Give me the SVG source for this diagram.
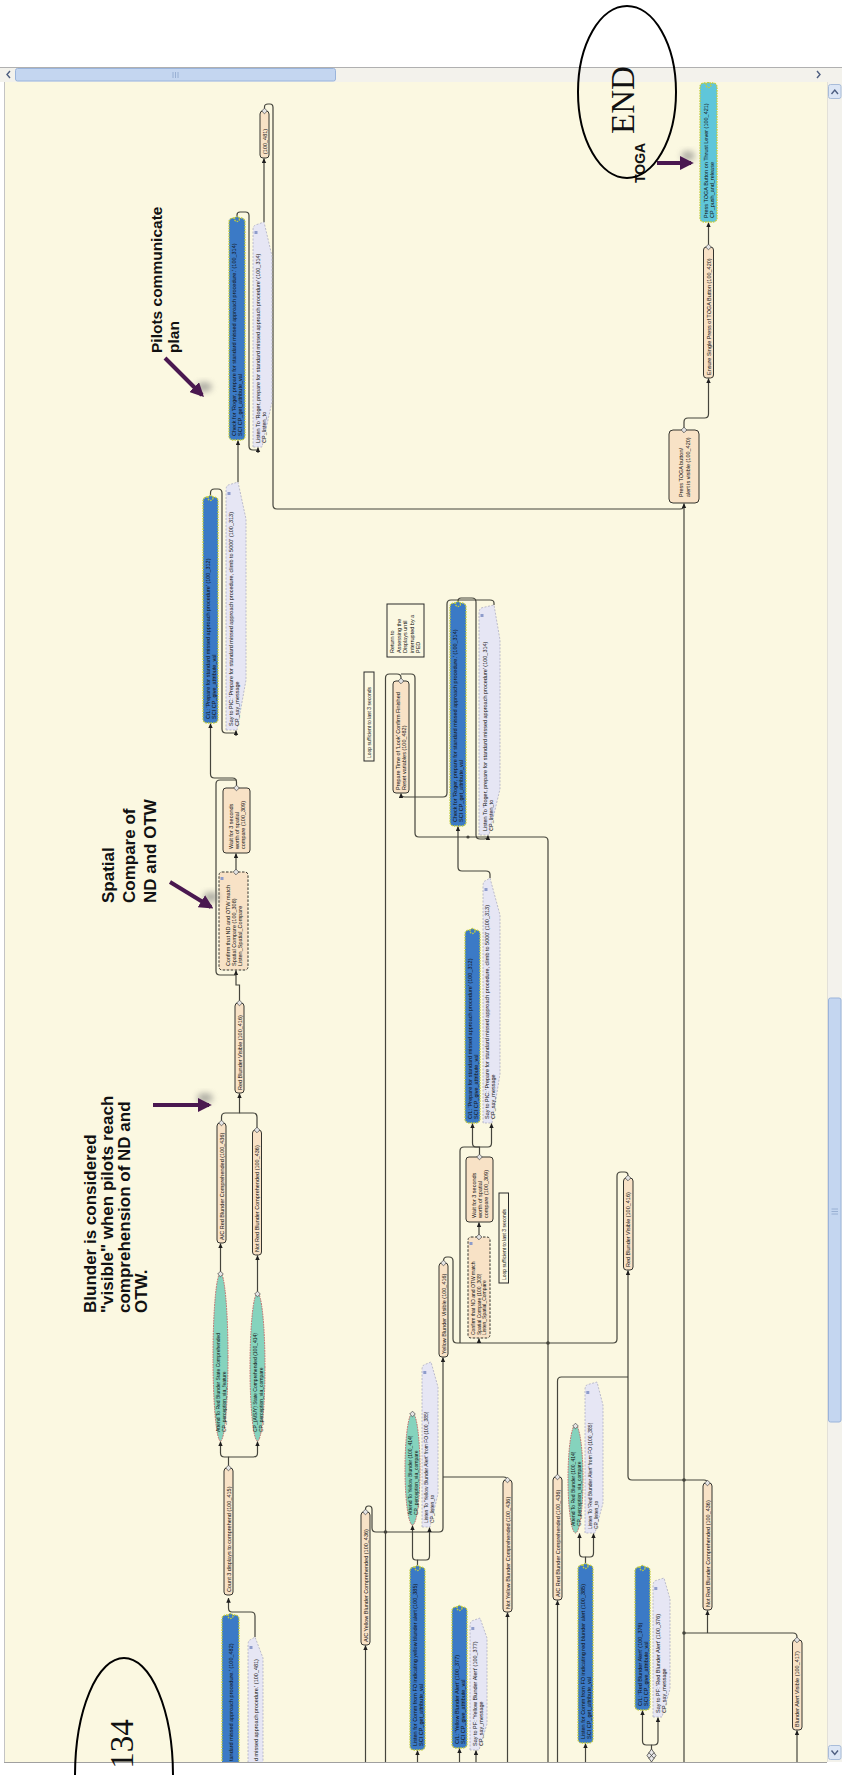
<svg xmlns="http://www.w3.org/2000/svg" width="842" height="1775" viewBox="0 0 842 1775">
<defs>
<style>
.ln{fill:none;stroke:#45453c;stroke-width:1.2}
.a{marker-end:url(#ah)}
.pe{fill:#F8E2C6;stroke:#35352f;stroke-width:1}
.pd{fill:#F8E2C6;stroke:#35352f;stroke-width:1;stroke-dasharray:2.5 1.5}
.bl{fill:#3B7AC6;stroke:#C3CC3C;stroke-width:1.3;stroke-dasharray:1.6 1}
.cy{fill:#85D3BD;stroke:#C26868;stroke-width:1;stroke-dasharray:1.6 1}
.tg{fill:#5FC6DA;stroke:#C3CC3C;stroke-width:1.3;stroke-dasharray:1.6 1}
.co{fill:#E6E6F4;stroke:#ADADC2;stroke-width:0.8;stroke-dasharray:2 1.5}
.nb{fill:#FBF8E1;stroke:#2a2a2a;stroke-width:1}
.t{font-family:"Liberation Sans",Arial,sans-serif;font-size:5.5px;fill:#111}
.t5{font-family:"Liberation Sans",Arial,sans-serif;font-size:5px;fill:#111}
.ann{font-family:"Liberation Sans",Arial,sans-serif;font-weight:bold;font-size:17px;fill:#111}
.big{font-family:"Liberation Serif","Times New Roman",serif;font-size:33px;fill:#111}
.pa{fill:none;stroke:#4A1850;stroke-width:4;marker-end:url(#pah)}
.sh{fill:#7a7a7a;opacity:0.6;filter:url(#blur)}
.jn{fill:#45453c}
.ic{fill:#8E9CCB}
.sb{fill:#F3F2EC}
.th{fill:#C4D6F0;stroke:#9AB4DB;stroke-width:1}
.chev{fill:none;stroke:#4D5E80;stroke-width:1.4}
</style>
<marker id="ah" viewBox="0 0 6 6" refX="5.6" refY="3" markerWidth="5" markerHeight="5" markerUnits="userSpaceOnUse" orient="auto"><path d="M0,0.3L6,3L0,5.7Z" fill="#1e1e1e"/></marker>
<marker id="pah" viewBox="0 0 10 10" refX="8" refY="5" markerWidth="14" markerHeight="14" markerUnits="userSpaceOnUse" orient="auto"><path d="M0,0L10,5L0,10Z" fill="#4A1850"/></marker>
<path id="dia" d="M0,-2.8L2.8,0L0,2.8L-2.8,0Z" fill="#e4e4e4" stroke="#444" stroke-width="0.7"/>
<filter id="blur" x="-50%" y="-50%" width="200%" height="200%"><feGaussianBlur stdDeviation="3"/></filter>
<clipPath id="cv"><rect x="5" y="82" width="822" height="1680"/></clipPath>
</defs>

<!-- window chrome -->
<g id="window">
<rect width="842" height="1775" fill="#ffffff"/>
<rect x="4" y="82" width="823" height="1680" fill="#FBF8E1"/>
<line x1="4.5" y1="82" x2="4.5" y2="1762" stroke="#C4C4C4"/>
<rect class="sb" x="0" y="67" width="842" height="15"/>
<line x1="0" y1="67.5" x2="842" y2="67.5" stroke="#B0B0B0"/>
<rect class="th" x="15.5" y="68.5" width="320" height="12.5" rx="2"/>
<path d="M173,72V78M175.5,72V78M178,72V78" stroke="#8EA6CC" stroke-width="0.8"/>
<path class="chev" d="M10,71L7,74.5L10,78"/>
<path class="chev" d="M817,71L820,74.5L817,78"/>
<rect class="sb" x="827" y="82" width="15" height="1680"/>
<line x1="827.5" y1="82" x2="827.5" y2="1762" stroke="#E2E0D8"/>
<rect x="828.5" y="84.5" width="12.5" height="14" rx="2" fill="#DCE6F5" stroke="#A8BCD9"/>
<path class="chev" d="M831.5,94L834.8,90L838,94"/>
<rect class="th" x="828.5" y="998" width="12.5" height="424" rx="2"/>
<path d="M831.5,1209H838M831.5,1211.5H838M831.5,1214H838" stroke="#8EA6CC" stroke-width="0.8"/>
<rect x="828.5" y="1745.5" width="12.5" height="14" rx="2" fill="#DCE6F5" stroke="#A8BCD9"/>
<path class="chev" d="M831.5,1750.5L834.8,1754.5L838,1750.5"/>
<line x1="4" y1="1762.5" x2="827" y2="1762.5" stroke="#A0A0A0"/>
</g>

<g clip-path="url(#cv)">
<!-- connectors -->
<g id="connectors">
<path class="ln a" d="M255,1637V1616Q255,1612 251,1612H232Q228.5,1612 228.5,1608V1598"/>
<path class="ln a" d="M228.5,1466V1457H224.5Q220.5,1457 220.5,1453V1441.5"/>
<path class="ln a" d="M228.5,1457H253.5Q257.5,1457 257.5,1453V1441.5"/>
<path class="ln a" d="M220.5,1273V1243.5"/>
<path class="ln a" d="M257.5,1293V1255.5"/>
<path class="ln a" d="M221.5,1121V1117Q221.5,1113 225.5,1113H239.5V1093.5"/>
<path class="ln" d="M257,1128V1117Q257,1113 253,1113H239.5"/>
<path class="ln a" d="M239.5,1001V985H236V970.5"/>
<path class="ln" d="M236,975H220Q216,975 216,971V784Q216,780 220,780H236.5"/>
<path class="ln a" d="M236,870V853.5"/>
<path class="ln a" d="M236.5,786V782Q236.5,778 232.5,778H214.5Q210.5,778 210.5,774V723.5"/>
<path class="ln" d="M210.5,497V493Q210.5,489 214.5,489H218Q222,489 222,493V729Q222,733 226,733H236"/>
<path class="ln a" d="M236,736V730.5"/>
<path class="ln a" d="M238,482V440.5"/>
<path class="ln" d="M237,218V215Q237,212 240,212H245.5Q249,212 249,215.5V446Q249,450 253,450H258"/>
<path class="ln a" d="M258,453V447.5"/>
<path class="ln a" d="M264,222V158.5"/>
<path class="ln" d="M264.5,109V107Q264.5,104 268,104H270Q273,104 273,107.5V505Q273,509 277,509H680Q684,509 684,505"/>
<path class="ln a" d="M684,1762V503.5"/>
<path class="ln a" d="M684,428V422Q684,418 688,418H704.5Q708.5,418 708.5,414V378.5"/>
<path class="ln a" d="M708.5,245V222.5"/>
<path class="ln" d="M401,679V677.5Q401,674 397,674H389.5Q385.5,674 385.5,678V1762"/>
<path class="ln" d="M401,674H411Q415,674 415,678V833Q415,837 419,837H544Q548,837 548,841V1762"/>
<path class="ln a" d="M494,605V603Q494,600 490,600H451Q447,600 447,604V793Q447,797 443,797H405Q401,797 401,793.5"/>
<path class="ln" d="M458,603V601Q458,598 461,598H472Q476,598 476,602V835Q476,839 480,839H484"/>
<path class="ln a" d="M484,839Q488,839 488,835.5"/>
<path class="ln a" d="M490,878V874.5Q490,871 486,871H462Q458,871 458,867V826.5"/>
<path class="ln a" d="M479.5,1156V1147H476Q472.5,1147 472.5,1143V1123.5"/>
<path class="ln a" d="M479.5,1147H488Q491.5,1147 491.5,1143V1123.5"/>
<path class="ln" d="M479.5,1147H464Q460,1147 460,1151V1343"/>
<path class="ln a" d="M479,1235V1222.5"/>
<path class="ln" d="M628,1178V1175.5Q628,1172 624.5,1172H621Q617,1172 617,1176V1339Q617,1343 613,1343H457Q453,1343 453,1339V1261Q453,1257 449,1257H447Q443.5,1257 443.5,1261"/>
<path class="ln a" d="M479,1343V1338.5"/>
<path class="ln a" d="M707.5,1483.5Q707.5,1480 704,1480H632Q628,1480 628,1476V1270.5"/>
<path class="ln" d="M557.5,1477V1381Q557.5,1377 561.5,1377H628"/>
<path class="ln a" d="M557.5,1762V1600.5"/>
<path class="ln a" d="M707.5,1633V1610.5"/>
<path class="ln" d="M797,1638V1637Q797,1633 793,1633H684"/>
<path class="ln a" d="M797,1762V1730.5"/>
<path class="ln a" d="M365.5,1762V1645.5"/>
<path class="ln a" d="M365.5,1510V1509.5Q365.5,1506 368.5,1506H369Q372,1506 372,1509.5V1528Q372,1532 376,1532H439Q443,1532 443,1528V1357.5"/>
<path class="ln" d="M507.5,1480V1481Q507.5,1477 503.5,1477H443"/>
<path class="ln a" d="M507.5,1762V1612.5"/>
<path class="ln a" d="M417.5,1566V1560H416Q412.5,1560 412.5,1556V1525.5"/>
<path class="ln a" d="M417.5,1560H426Q429.5,1560 429.5,1556V1527.5"/>
<path class="ln a" d="M417.5,1762V1750.5"/>
<path class="ln a" d="M459.5,1762V1748.5"/>
<path class="ln a" d="M476,1762V1750.5"/>
<path class="ln a" d="M585.5,1565V1557H583Q579.5,1557 579.5,1553V1533.5"/>
<path class="ln a" d="M585.5,1557H590Q593.5,1557 593.5,1553V1533.5"/>
<path class="ln a" d="M585.5,1762V1743.5"/>
<path class="ln a" d="M651.5,1750V1745H646.5Q642.5,1745 642.5,1741V1710.5"/>
<path class="ln a" d="M651.5,1745H654Q658,1745 658,1741V1717.5"/>
<path d="M651.5,1749L656,1755.5L651.5,1762L647,1755.5Z M648.8,1752.5L654.2,1758.5M654.2,1752.5L648.8,1758.5" fill="#e8e8e8" stroke="#444" stroke-width="0.8"/>
<circle class="jn" cx="684" cy="1480" r="1.8"/>
<circle class="jn" cx="684" cy="1633" r="1.8"/>
<circle class="jn" cx="548" cy="1343" r="1.8"/>
<circle class="jn" cx="385.5" cy="1532" r="1.8"/>
<circle class="jn" cx="468" cy="837" r="1.6"/>
</g>

<!-- column A nodes -->
<g id="a1-blue"><rect class="bl" x="222" y="1615" width="17" height="170" rx="4"/><circle class="bl" cx="230.5" cy="1616" r="2.5"/>
<text class="t" transform="translate(232.5,1761) rotate(-90)">tandard missed approach procedure.' (100_482)</text></g>
<g id="a1-callout"><path class="co" d="M248,1780V1645Q248,1640 251,1639.5L255,1637L263,1658V1780Z"/><rect class="ic" x="249.5" y="1646" width="3" height="3"/>
<text class="t" transform="translate(257.5,1761) rotate(-90)">d missed approach procedure.' (100_481)</text></g>
<g id="a2-count"><rect class="pe" x="224" y="1468" width="9" height="127" rx="3"/><use href="#dia" x="228.5" y="1468"/>
<text class="t" transform="translate(230.5,1592) rotate(-90)">Count 3 displays to comprehend (100_415)</text></g>
<g id="a3-e1"><ellipse class="cy" cx="220.5" cy="1357" rx="7.5" ry="84"/><use href="#dia" x="220.5" y="1274"/>
<text class="t5" transform="translate(219.5,1432) rotate(-90)">Attend To Red Blunder State Comprehended<tspan x="0" dy="6">CP_perception_via_feature</tspan></text></g>
<g id="a3-e2"><ellipse class="cy" cx="257.5" cy="1367" rx="7.5" ry="74"/><use href="#dia" x="257.5" y="1294"/>
<text class="t5" transform="translate(256.5,1432) rotate(-90)">CP_(A/S/Y) State Comprehended (100_414)<tspan x="0" dy="6">CP_perception_via_compare</tspan></text></g>
<g id="a4-nl"><rect class="pe" x="217" y="1123" width="9" height="120" rx="3"/><use href="#dia" x="221.5" y="1123"/>
<text class="t" transform="translate(223.5,1240) rotate(-90)">A/C Red Blunder Comprehended (100_436)</text></g>
<g id="a4-nr"><rect class="pe" x="252.5" y="1130" width="9" height="125" rx="3"/><use href="#dia" x="257" y="1130"/>
<text class="t" transform="translate(259,1252) rotate(-90)">Not Red Blunder Comprehended (100_436)</text></g>
<g id="a5-rbv"><rect class="pe" x="235" y="1003" width="9" height="90" rx="3"/><use href="#dia" x="239.5" y="1003"/>
<text class="t" transform="translate(241.5,1090) rotate(-90)">Red Blunder Visible (100_416)</text></g>
<g id="a6-confirm"><rect class="pd" x="219" y="872" width="29" height="98" rx="3"/><use href="#dia" x="236" y="872"/><rect class="ic" x="220.5" y="877" width="3" height="3"/>
<text class="t" transform="translate(229.5,966) rotate(-90)">Confirm that ND and OTW match<tspan x="0" dy="6">Spatial Compare (100_308)</tspan><tspan x="0" dy="6">Listen_Spatial_Compare</tspan></text></g>
<g id="a7-wait"><rect class="pe" x="223" y="788" width="27" height="65" rx="3"/><use href="#dia" x="236.5" y="788"/>
<text class="t" transform="translate(232.5,849) rotate(-90)">Wait for 3 seconds<tspan x="0" dy="6">worth of spatial</tspan><tspan x="0" dy="6">compare (100_309)</tspan></text></g>
<g id="a8-blue"><rect class="bl" x="203" y="497" width="15" height="226" rx="4"/><circle class="bl" cx="210.5" cy="498" r="2.5"/>
<text class="t" transform="translate(209.5,719) rotate(-90)">C/L: 'Prepare for standard missed approach procedure' (100_312)<tspan x="0" dy="6">SCI CP_give_attribute_val</tspan></text></g>
<g id="a8-callout"><path class="co" d="M226,730V490Q226,485 230,484.5L238,482L246,519V680L237,730Z"/><rect class="ic" x="227.5" y="492" width="3" height="3"/>
<text class="t" transform="translate(233,726) rotate(-90)">Say to PIC: 'Prepare for standard missed approach procedure, climb to 5000' (100_313)<tspan x="0" dy="6">CP_say_message</tspan></text></g>
<g id="a9-blue"><rect class="bl" x="229" y="218" width="16" height="222" rx="4"/><circle class="bl" cx="237" cy="219" r="2.5"/>
<text class="t" transform="translate(236,436) rotate(-90)">Check for 'Roger, prepare for standard missed approach procedure.' (100_314)<tspan x="0" dy="6">SCI CP_get_attribute_val</tspan></text></g>
<g id="a9-callout"><path class="co" d="M253,447V230Q253,225 257,224.5L264,222L272,256V402L262,447Z"/><rect class="ic" x="254.5" y="231" width="3" height="3"/>
<text class="t" transform="translate(259.5,443) rotate(-90)">Listen To 'Roger, prepare for standard missed approach procedure' (100_314)<tspan x="0" dy="6">CP_listen_to</tspan></text></g>
<g id="a10-small"><rect class="pe" x="260" y="111" width="9" height="47" rx="3"/><use href="#dia" x="264.5" y="111"/>
<text class="t" transform="translate(266.5,154) rotate(-90)">(100_481)</text></g>

<!-- TOGA column -->
<g id="t1-press"><rect class="pe" x="669" y="430" width="30" height="73" rx="4"/><use href="#dia" x="684" y="430"/>
<text class="t" transform="translate(683,497) rotate(-90)">Press TOGA button/<tspan x="0" dy="6.5">alert is visible (100_420)</tspan></text></g>
<g id="t2-ensure"><rect class="pe" x="703.5" y="247" width="10" height="131" rx="3"/><use href="#dia" x="708.5" y="247"/>
<text class="t" transform="translate(710.5,375) rotate(-90)">Ensure Single Press of TOGA Button (100_420)</text></g>
<g id="t3-toga"><rect class="tg" x="700" y="83" width="17" height="139" rx="4"/><circle class="tg" cx="708.5" cy="85" r="2.5"/>
<text class="t" transform="translate(707.5,218) rotate(-90)">Press TOGA Button on Thrust Lever (100_421)<tspan x="0" dy="6">CP_push_and_release</tspan></text></g>

<!-- column B -->
<g id="return-note"><rect class="nb" x="387" y="604" width="37" height="53"/>
<text class="t" transform="translate(394.3,653) rotate(-90)">Return to<tspan x="0" dy="6.5">Assessing the</tspan><tspan x="0" dy="6.5">Displays until</tspan><tspan x="0" dy="6.5">interrupted by a</tspan><tspan x="0" dy="6.5">PED</tspan></text></g>
<g id="loop-note-1"><rect class="nb" x="364" y="672" width="10" height="89"/>
<text class="t5" transform="translate(371,758) rotate(-90)">Loop sufficient to last 3 seconds</text></g>
<g id="b-prepare"><rect class="pe" x="393" y="681" width="16" height="112" rx="3"/><use href="#dia" x="401" y="681"/>
<text class="t" transform="translate(400,790) rotate(-90)">Prepare Time of 'Look' Confirm Finished<tspan x="0" dy="6">Reset variables (100_482)</tspan></text></g>
<g id="b6-blue"><rect class="bl" x="450" y="603" width="16" height="223" rx="4"/><circle class="bl" cx="458" cy="604" r="2.5"/>
<text class="t" transform="translate(457,822) rotate(-90)">Check for 'Roger, prepare for standard missed approach procedure.' (100_314)<tspan x="0" dy="6">SCI CP_get_attribute_val</tspan></text></g>
<g id="b6-callout"><path class="co" d="M479,835V613Q479,608 483,607.5L494,605L500,640V789L489,835Z"/><rect class="ic" x="480.5" y="614" width="3" height="3"/>
<text class="t" transform="translate(486.5,831) rotate(-90)">Listen To 'Roger, prepare for standard missed approach procedure' (100_314)<tspan x="0" dy="6">CP_listen_to</tspan></text></g>
<g id="b7-blue"><rect class="bl" x="465" y="930" width="15" height="193" rx="4"/><circle class="bl" cx="472.5" cy="931" r="2.5"/>
<text class="t" transform="translate(471.5,1119) rotate(-90)">C/L: 'Prepare for standard missed approach procedure' (100_312)<tspan x="0" dy="6">SCI CP_give_attribute_val</tspan></text></g>
<g id="b7-callout"><path class="co" d="M483,1123V886Q483,881 486,880.5L490,878L500,915V1074L492,1123Z"/><rect class="ic" x="484.5" y="888" width="3" height="3"/>
<text class="t" transform="translate(488.5,1119) rotate(-90)">Say to PIC: 'Prepare for standard missed approach procedure, climb to 5000' (100_313)<tspan x="0" dy="6">CP_say_message</tspan></text></g>
<g id="b-wait"><rect class="pe" x="466" y="1157" width="27" height="65" rx="3"/><use href="#dia" x="479.5" y="1157"/>
<text class="t" transform="translate(475.5,1218) rotate(-90)">Wait for 3 seconds<tspan x="0" dy="6">worth of spatial</tspan><tspan x="0" dy="6">compare (100_309)</tspan></text></g>
<g id="b-confirm"><rect class="pd" x="468" y="1237" width="22" height="101" rx="3"/><use href="#dia" x="479" y="1237"/><rect class="ic" x="469.5" y="1242" width="3" height="3"/>
<text class="t5" transform="translate(475.2,1335) rotate(-90)">Confirm that ND and OTW match<tspan x="0" dy="5.5">Spatial Compare (100_308)</tspan><tspan x="0" dy="5.5">Listen_Spatial_Compare</tspan></text></g>
<g id="loop-note-2"><rect class="nb" x="499" y="1193" width="9.5" height="90"/>
<text class="t5" transform="translate(506,1280) rotate(-90)">Loop sufficient to last 3 seconds</text></g>
<g id="b-yellow-visible"><rect class="pe" x="439" y="1263" width="9" height="94" rx="3"/><use href="#dia" x="443.5" y="1263"/>
<text class="t" transform="translate(445.5,1354) rotate(-90)">Yellow Blunder Visible (100_416)</text></g>
<g id="b-red-visible"><rect class="pe" x="623.5" y="1178" width="9.5" height="92" rx="3"/><use href="#dia" x="628" y="1178"/>
<text class="t" transform="translate(630.3,1267) rotate(-90)">Red Blunder Visible (100_416)</text></g>
<g id="b-ac-yellow"><rect class="pe" x="361" y="1512" width="9" height="133" rx="3"/><use href="#dia" x="365.5" y="1512"/>
<text class="t" transform="translate(367.5,1642) rotate(-90)">A/C Yellow Blunder Comprehended (100_436)</text></g>
<g id="b-e3"><ellipse class="cy" cx="412.5" cy="1469" rx="7.5" ry="56"/><use href="#dia" x="412.5" y="1414"/>
<text class="t5" transform="translate(411.5,1515) rotate(-90)">Attend To Yellow Blunder (100_414)<tspan x="0" dy="6">CP_perception_via_compare</tspan></text></g>
<g id="b-c3"><path class="co" d="M422,1527V1370Q422,1365 425,1364.5L431,1362L438,1387V1494L430,1527Z"/><rect class="ic" x="423.3" y="1371" width="3" height="3"/>
<text class="t5" transform="translate(428,1523) rotate(-90)">Listen To 'Yellow Blunder Alert' from FO (100_385)<tspan x="0" dy="6">CP_listen_to</tspan></text></g>
<g id="b-b3"><rect class="bl" x="410" y="1567" width="15" height="183" rx="4"/><circle class="bl" cx="417.5" cy="1568" r="2.5"/>
<text class="t" transform="translate(416.5,1746) rotate(-90)">Listen for Comm from FO indicating yellow blunder alert (100_385)<tspan x="0" dy="6">SCI CP_get_attribute_val</tspan></text></g>
<g id="b-b8"><rect class="bl" x="452" y="1607" width="15" height="141" rx="4"/><circle class="bl" cx="459.5" cy="1608" r="2.5"/>
<text class="t" transform="translate(458.5,1744) rotate(-90)">C/L: 'Yellow Blunder Alert' (100_377)<tspan x="0" dy="6">SCI CP_give_attribute_val</tspan></text></g>
<g id="b-c8"><path class="co" d="M470,1750V1626Q470,1621 473,1620.5L480,1618L487,1638V1724L479,1750Z"/><rect class="ic" x="471.3" y="1627" width="3" height="3"/>
<text class="t" transform="translate(476.5,1746) rotate(-90)">Say to PF: 'Yellow Blunder Alert' (100_377)<tspan x="0" dy="6">CP_say_message</tspan></text></g>
<g id="b-n5"><rect class="pe" x="503" y="1480" width="9" height="132" rx="3"/><use href="#dia" x="507.5" y="1480"/>
<text class="t" transform="translate(509.5,1609) rotate(-90)">Not Yellow Blunder Comprehended (100_436)</text></g>
<g id="b-a2"><rect class="pe" x="553" y="1477" width="9" height="123" rx="3"/><use href="#dia" x="557.5" y="1477"/>
<text class="t" transform="translate(559.5,1597) rotate(-90)">A/C Red Blunder Comprehended (100_436)</text></g>
<g id="b-e4"><ellipse class="cy" cx="575.5" cy="1479" rx="7.5" ry="54"/><use href="#dia" x="575.5" y="1426"/>
<text class="t5" transform="translate(574.5,1526) rotate(-90)">Attend To Red Blunder (100_414)<tspan x="0" dy="6">CP_perception_via_compare</tspan></text></g>
<g id="b-c4"><path class="co" d="M585,1533V1390Q585,1385 588,1384.5L597,1382L603,1405V1503L595,1533Z"/><rect class="ic" x="586.3" y="1391" width="3" height="3"/>
<text class="t5" transform="translate(592,1529) rotate(-90)">Listen To 'Red Blunder Alert' from FO (100_385)<tspan x="0" dy="6">CP_listen_to</tspan></text></g>
<g id="b-b4"><rect class="bl" x="578" y="1565" width="15" height="178" rx="4"/><circle class="bl" cx="585.5" cy="1566" r="2.5"/>
<text class="t" transform="translate(584.5,1739) rotate(-90)">Listen for Comm from FO indicating red blunder alert (100_385)<tspan x="0" dy="6">SCI CP_get_attribute_val</tspan></text></g>
<g id="b-b5"><rect class="bl" x="635" y="1567" width="15" height="143" rx="4"/><circle class="bl" cx="642.5" cy="1568" r="2.5"/>
<text class="t" transform="translate(641.5,1706) rotate(-90)">C/L: 'Red Blunder Alert' (100_376)<tspan x="0" dy="6">SCI CP_give_attribute_val</tspan></text></g>
<g id="b-c5"><path class="co" d="M653,1717V1586Q653,1581 656,1580.5L664,1578L670,1599V1689L662,1717Z"/><rect class="ic" x="654.3" y="1587" width="3" height="3"/>
<text class="t" transform="translate(659.5,1713) rotate(-90)">Say to PF: 'Red Blunder Alert' (100_376)<tspan x="0" dy="6">CP_say_message</tspan></text></g>
<g id="b-n3"><rect class="pe" x="703" y="1483" width="9" height="127" rx="3"/><use href="#dia" x="707.5" y="1483"/>
<text class="t" transform="translate(709.5,1607) rotate(-90)">Not Red Blunder Comprehended (100_436)</text></g>
<g id="b-n4"><rect class="pe" x="792.5" y="1640" width="9.5" height="90" rx="3"/><use href="#dia" x="797" y="1640"/>
<text class="t" transform="translate(799.3,1727) rotate(-90)">Blunder Alert Visible (100_417)</text></g>

<!-- annotations -->
<g id="ann-pilots">
<ellipse class="sh" cx="204" cy="387" rx="8" ry="5"/>
<path class="pa" d="M165,358L202,395"/>
<text class="ann" style="font-size:15.5px" transform="translate(162,353) rotate(-90)">Pilots communicate<tspan x="0" dy="17">plan</tspan></text>
</g>
<g id="ann-spatial">
<ellipse class="sh" cx="211" cy="897" rx="8" ry="5"/>
<path class="pa" d="M170,882L211,907"/>
<text class="ann" transform="translate(114,903) rotate(-90)">Spatial<tspan x="0" dy="21">Compare of</tspan><tspan x="0" dy="21">ND and OTW</tspan></text>
</g>
<g id="ann-blunder">
<ellipse class="sh" cx="205" cy="1098" rx="8" ry="5"/>
<path class="pa" d="M153,1105H209"/>
<text class="ann" transform="translate(96,1313) rotate(-90)">Blunder is considered<tspan x="0" dy="17">"visible" when pilots reach</tspan><tspan x="0" dy="17">comprehension of ND and</tspan><tspan x="0" dy="17">OTW.</tspan></text>
</g>
</g>

<g id="ann-toga">
<ellipse class="sh" cx="688" cy="156" rx="7" ry="5"/>
<path class="pa" d="M657,163H691"/>
<text class="ann" style="font-size:14px" transform="translate(645,183) rotate(-90)">TOGA</text>
</g>
<g id="end-marker">
<ellipse cx="627" cy="92" rx="49" ry="86" fill="none" stroke="#000" stroke-width="2"/>
<text class="big" text-anchor="middle" transform="translate(634,100) rotate(-90)">END</text>
</g>
<g id="page-marker">
<ellipse cx="124" cy="1776" rx="49" ry="118" fill="none" stroke="#000" stroke-width="2"/>
<text class="big" text-anchor="middle" transform="translate(133,1744) rotate(-90)">134</text>
</g>
</svg>
